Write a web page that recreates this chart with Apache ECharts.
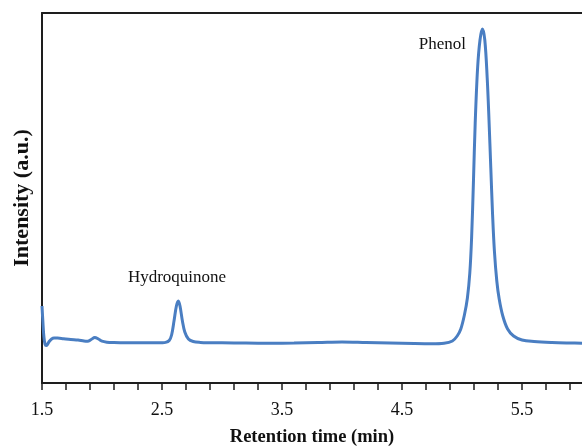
<!DOCTYPE html>
<html>
<head>
<meta charset="utf-8">
<script src="https://cdn.jsdelivr.net/npm/echarts@6/dist/echarts.min.js"></script>
<style>
  html, body { margin: 0; padding: 0; background: #fff; }
  #chart { width: 582px; height: 446px; }
</style>
</head>
<body>
<div id="chart"></div>
<script>
// retention time (min) and detector signal (a.u.)
const times = [1.500, 1.508, 1.516, 1.525, 1.535, 1.545, 1.56, 1.58, 1.60, 1.63, 1.68, 1.74, 1.80, 1.85, 1.88,
  1.91, 1.94, 1.97, 2.00, 2.04, 2.10, 2.20, 2.30, 2.40, 2.50, 2.53, 2.56, 2.58, 2.60, 2.62, 2.636, 2.65, 2.67,
  2.69, 2.72, 2.76, 2.82, 2.90, 3.00, 3.20, 3.40, 3.60, 3.80, 4.00, 4.20, 4.40, 4.60, 4.75, 4.85, 4.92, 4.96,
  4.99, 5.02, 5.045, 5.065, 5.08, 5.095, 5.11, 5.13, 5.15, 5.17, 5.19, 5.21, 5.225, 5.24, 5.255, 5.27, 5.29,
  5.31, 5.34, 5.38, 5.43, 5.50, 5.60, 5.75, 5.90, 6.00];
const intensity = [77, 60, 46, 39, 37.5, 38.5, 41.5, 44, 45, 45, 44.3, 43.5, 43, 42, 41.8,
  43.5, 45.5, 44, 41.8, 40.8, 40.4, 40.2, 40.2, 40.2, 40.3, 40.6, 42.5, 48, 62, 77, 82, 77, 62,
  51, 44, 41.5, 40.6, 40.3, 40.2, 40, 39.8, 40, 40.4, 41, 40.5, 40, 39.5, 39.3, 39.8, 42, 47,
  54, 68, 85, 110, 145, 200, 260, 315, 343, 354, 343, 305, 263, 215, 168, 132, 102,
  84, 67, 54, 47, 43, 41.5, 40.5, 40, 39.8];

const tickValues = [1.5, 1.7, 1.9, 2.1, 2.3, 2.5, 2.7, 2.9, 3.1, 3.3, 3.5, 3.7, 3.9, 4.1, 4.3, 4.5,
  4.7, 4.9, 5.1, 5.3, 5.5, 5.7, 5.9];
const labelValues = [1.5, 2.5, 3.5, 4.5, 5.5];

// peak names and where their text sits
const peakNames = ['Hydroquinone', 'Phenol'];
const peakLabelPos = [[2.625, 105], [4.837, 338]];

const serif = '"Liberation Serif", "DejaVu Serif", serif';
const axisColor = '#1e1e1e';

const chart = echarts.init(document.getElementById('chart'));

const option = {
  animation: false,
  grid: { left: 42, right: 0, top: 13, bottom: 63, outerBoundsMode: 'none' },
  xAxis: [{
    type: 'value',
    min: 1.5,
    max: 6.0,
    name: 'Retention time (min)',
    nameLocation: 'middle',
    nameGap: 45,
    nameTextStyle: { fontFamily: serif, fontSize: 18.5, fontWeight: 'bold', color: '#111' },
    axisLine: { show: true, lineStyle: { color: axisColor, width: 2 } },
    axisTick: { show: true, inside: false, length: 7, customValues: tickValues,
      lineStyle: { color: axisColor, width: 1.5 } },
    axisLabel: { customValues: labelValues, margin: 18, fontFamily: serif, fontSize: 18, color: '#111' },
    splitLine: { show: false }
  }, {
    type: 'value',
    position: 'top',
    min: 1.5,
    max: 6.0,
    axisLine: { show: true, lineStyle: { color: axisColor, width: 2 } },
    axisTick: { show: false },
    axisLabel: { show: false },
    splitLine: { show: false }
  }],
  yAxis: {
    type: 'value',
    min: 0,
    max: 370,
    name: 'Intensity (a.u.)',
    nameLocation: 'middle',
    nameGap: 9,
    nameTextStyle: { fontFamily: serif, fontSize: 22, fontWeight: 'bold', color: '#111' },
    axisLine: { show: true, lineStyle: { color: axisColor, width: 2 } },
    axisTick: { show: false },
    axisLabel: { show: false },
    splitLine: { show: false }
  },
  series: [{
    type: 'line',
    data: times.map((t, i) => [t, intensity[i]]),
    showSymbol: false,
    smooth: 0.35,
    lineStyle: { color: '#4a7ec2', width: 3 },
    markPoint: {
      symbol: 'circle',
      symbolSize: 1,
      itemStyle: { color: 'rgba(0,0,0,0)' },
      label: { show: true, position: 'inside', fontFamily: serif, fontSize: 17, color: '#111' },
      data: peakNames.map((n, i) => ({ coord: peakLabelPos[i], name: n, label: { formatter: n } }))
    }
  }]
};

chart.setOption(option);
</script>
</body>
</html>
